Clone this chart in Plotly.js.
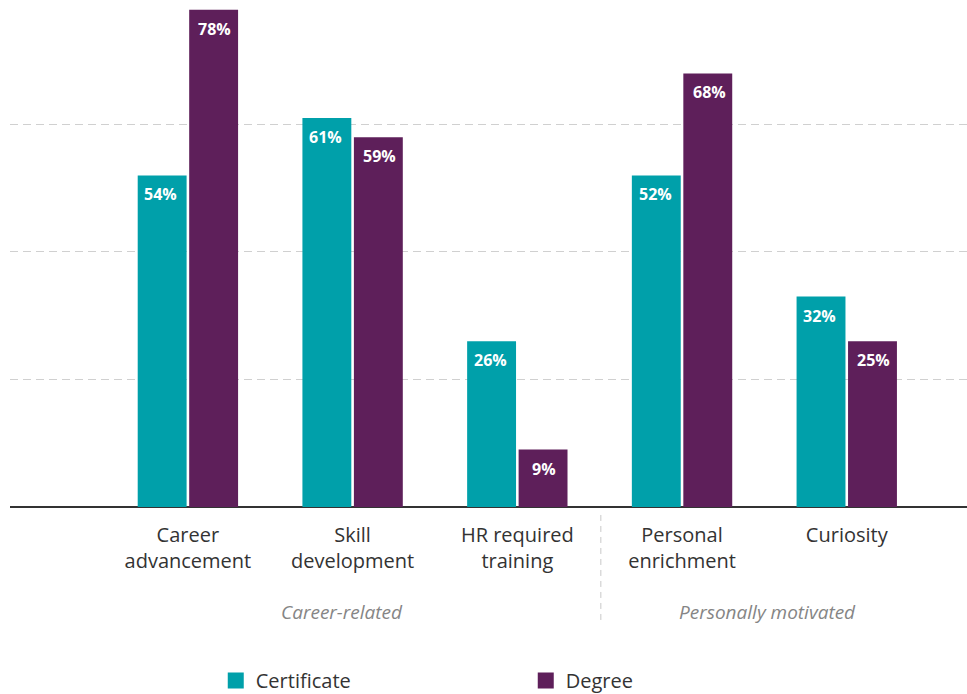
<!DOCTYPE html>
<html>
<head>
<meta charset="utf-8">
<script src="https://cdn.plot.ly/plotly-3.0.1.min.js"></script>
<style>html,body{margin:0;padding:0;background:#fff}#chart{width:967px;height:694px}</style>
</head>
<body>
<div id="chart"></div>
<script>
var categories = ["Career<br>advancement", "Skill<br>development", "HR required<br>training", "Personal<br>enrichment", "Curiosity"];
// bar heights as drawn in the picture
var certificate = [52, 61, 26, 52, 33];
var degree = [78, 58, 9, 68, 26];
// value labels as printed on the bars
var certificateLabels = ["54%", "61%", "26%", "52%", "32%"];
var degreeLabels = ["78%", "59%", "9%", "68%", "25%"];
var groupLabels = ["Career-related", "Personally motivated"];
var seriesNames = ["Certificate", "Degree"];

var TEAL = "#00A0AA", PURPLE = "#5E1F5A";
var xs = categories.map(function (_, i) { return i; });

var traces = [
  {type: "bar", x: xs, y: certificate, name: seriesNames[0], marker: {color: TEAL}, showlegend: false, hoverinfo: "none"},
  {type: "bar", x: xs, y: degree, name: seriesNames[1], marker: {color: PURPLE}, showlegend: false, hoverinfo: "none"},
  {type: "scatter", mode: "markers", x: [null], y: [null], name: seriesNames[0], marker: {symbol: "square", size: 16, color: TEAL}},
  {type: "scatter", mode: "markers", x: [null], y: [null], name: seriesNames[1], marker: {symbol: "square", size: 16, color: PURPLE}}
];

var annotations = [];
function addLabels(vals, labels, shift) {
  vals.forEach(function (v, i) {
    annotations.push({x: i, y: v, xref: "x", yref: "y", xshift: shift, yshift: -6, yanchor: "top",
      text: "<b>" + labels[i] + "</b>", showarrow: false, font: {family: "Open Sans", size: 16, color: "#ffffff"}});
  });
}
addLabels(certificate, certificateLabels, -27);
addLabels(degree, degreeLabels, 27);
annotations.push({x: 0.935, y: -0.211, xref: "x", yref: "paper", yanchor: "middle", text: "<i>" + groupLabels[0] + "</i>", showarrow: false,
  font: {family: "Open Sans", size: 19, color: "#858585"}});
annotations.push({x: 3.52, y: -0.211, xref: "x", yref: "paper", yanchor: "middle", text: "<i>" + groupLabels[1] + "</i>", showarrow: false,
  font: {family: "Open Sans", size: 19, color: "#858585"}});

var layout = {
  width: 967, height: 694,
  margin: {l: 10, r: 0, t: 9, b: 187, autoexpand: false},
  paper_bgcolor: "#fff", plot_bgcolor: "#fff",
  font: {family: "Open Sans", color: "#333"},
  barmode: "group", bargap: 0.375, bargroupgap: 0.05,
  xaxis: {
    range: [-1.08, 4.73], tickvals: xs, ticktext: categories, showgrid: false, zeroline: false,
    showline: false, ticks: "", ticklabelstandoff: 14, automargin: false,
    tickfont: {family: "Open Sans", size: 20, color: "#333"}, fixedrange: true
  },
  yaxis: {
    range: [0, 78.1], tickvals: [20, 40, 60], showticklabels: false, showgrid: true, gridcolor: "#d0d0d0",
    griddash: "8px,5px", gridwidth: 1, zeroline: true, zerolinecolor: "#333", zerolinewidth: 1.5, showline: false,
    automargin: false, fixedrange: true
  },
  shapes: [
    {type: "line", xref: "x", yref: "paper", x0: 2.507, x1: 2.507, y0: -0.016, y1: -0.227,
      line: {color: "#c8c8c8", width: 1, dash: "6px,5px"}}
  ],
  annotations: annotations,
  showlegend: true,
  legend: {orientation: "h", x: 0.215, y: -0.309, xanchor: "left", yanchor: "top",
    entrywidth: 265, entrywidthmode: "pixels", font: {family: "Open Sans", size: 20, color: "#333"}}
};

Plotly.newPlot("chart", traces, layout, {displayModeBar: false, staticPlot: true});
</script>
</body>
</html>
